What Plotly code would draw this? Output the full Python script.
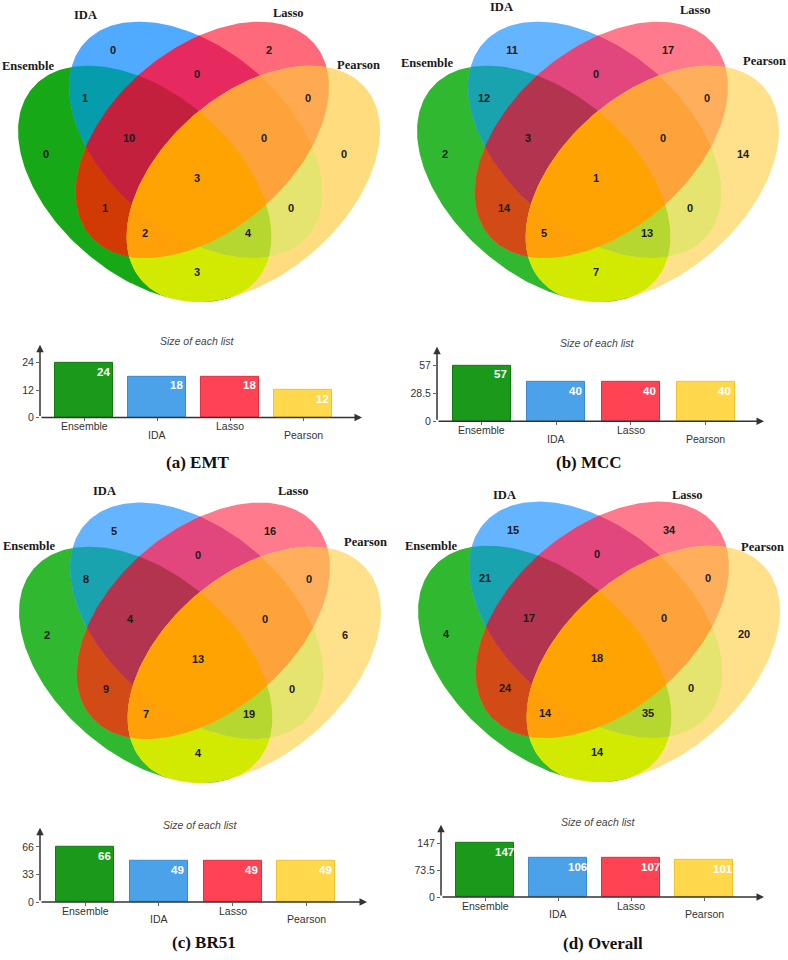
import numpy as np
import plotly.graph_objects as go

# ---------------- data ----------------
set_names = ["Ensemble", "IDA", "Lasso", "Pearson"]
# region order: A=Ensemble, B=IDA, C=Lasso, D=Pearson
region_keys = ["A", "B", "C", "D", "AB", "BC", "CD", "ABC", "BCD", "AC", "BD", "ACD", "ABD", "AD", "ABCD"]

emt_regions = [0, 0, 2, 0, 1, 0, 0, 10, 0, 1, 0, 2, 4, 3, 3]
mcc_regions = [2, 11, 17, 14, 12, 0, 0, 3, 0, 14, 0, 5, 13, 7, 1]
br51_regions = [2, 5, 16, 6, 8, 0, 0, 4, 0, 9, 0, 7, 19, 4, 13]
overall_regions = [4, 15, 34, 20, 21, 0, 0, 17, 0, 24, 0, 14, 35, 14, 18]

emt_sizes = [24, 18, 18, 12]
mcc_sizes = [57, 40, 40, 40]
br51_sizes = [66, 49, 49, 49]
overall_sizes = [147, 106, 107, 101]

emt_ticks = [0, 12, 24]
mcc_ticks = [0, 28.5, 57]
br51_ticks = [0, 33, 66]
overall_ticks = [0, 73.5, 147]

captions = ["(a) EMT", "(b) MCC", "(c) BR51", "(d) Overall"]
bar_title = "Size of each list"

# ---------------- styling / layout geometry ----------------
W, H = 788, 960
region_colors = {
    "A": "rgb(48,184,48)", "B": "rgb(100,180,255)", "C": "rgb(255,122,140)", "D": "rgb(255,225,140)",
    "AB": "rgb(25,163,175)", "BC": "rgb(225,70,125)", "CD": "rgb(255,175,92)",
    "ABC": "rgb(178,52,78)", "BCD": "rgb(253,163,58)", "AC": "rgb(210,75,22)",
    "BD": "rgb(228,228,110)", "ACD": "rgb(255,160,8)", "ABD": "rgb(182,214,48)",
    "AD": "rgb(210,234,0)", "ABCD": "rgb(255,163,2)",
}
# panel (a) is rendered with slightly deeper tones in the reference
region_colors_a = dict(region_colors)
region_colors_a.update({
    "A": "rgb(22,168,22)", "B": "rgb(80,170,255)", "C": "rgb(255,106,122)", "D": "rgb(255,220,125)",
    "AB": "rgb(5,156,172)", "BC": "rgb(230,42,95)", "ABC": "rgb(195,32,62)", "AC": "rgb(210,58,5)",
    "CD": "rgb(255,170,80)",
})
bar_colors = ["#1b991b", "#4ca2e8", "#ff4354", "#ffd84b"]
bar_edge = ["#127a12", "#3a8ad0", "#e0303f", "#f0c430"]

# label offsets relative to the central label
reg_off = {"A": (-151, -24), "B": (-84, -128), "C": (72, -128), "D": (147, -24),
           "AB": (-112, -80), "BC": (0, -104), "CD": (111, -80),
           "ABC": (-68, -40), "BCD": (67, -40), "AC": (-92, 31), "BD": (94, 31),
           "ACD": (-52, 56), "ABD": (51, 56), "AD": (0, 95), "ABCD": (0, 0)}
# ellipse geometry relative to symmetric centre: (dx, dy, angle deg, screen coords)
ell_a, ell_b = 148.0, 91.0
ell_geo = {"A": (-54.3, 5.0, 41.0), "B": (-3.3, -39.3, 41.0),
           "C": (3.3, -39.3, -41.0), "D": (54.3, 5.0, -41.0)}

panels = [
    dict(regions=emt_regions, sizes=emt_sizes, ticks=emt_ticks, cap=captions[0],
         cx=197, cy=180, colors=region_colors_a,
         setlab=[(-169, -114), (-112, -165), (91, -167), (161, -115)],
         bar=dict(x0=40, x1=362, c0=84, sp=73.0, zero=420, top=347, maxy=365),
         title=(197, 343), capxy=(197, 465)),
    dict(regions=mcc_regions, sizes=mcc_sizes, ticks=mcc_ticks, cap=captions[1],
         cx=596, cy=180, colors=region_colors,
         setlab=[(-169, -117), (-95, -173), (99, -170), (168, -119)],
         bar=dict(x0=437, x1=764, c0=481.5, sp=74.7, zero=424, top=349, maxy=367.7),
         title=(597, 345), capxy=(589, 465)),
    dict(regions=br51_regions, sizes=br51_sizes, ticks=br51_ticks, cap=captions[2],
         cx=198, cy=664, colors=region_colors,
         setlab=[(-169, -115), (-94, -170), (95, -170), (167, -119)],
         bar=dict(x0=40, x1=367, c0=85, sp=73.8, zero=907.7, top=833, maxy=852.3),
         title=(200, 830), capxy=(204, 948)),
    dict(regions=overall_regions, sizes=overall_sizes, ticks=overall_ticks, cap=captions[3],
         cx=597, cy=663, colors=region_colors,
         setlab=[(-166, -114), (-93, -165), (90, -165), (165, -113)],
         bar=dict(x0=441, x1=764, c0=485, sp=73.0, zero=902.7, top=830, maxy=848.3),
         title=(598, 827), capxy=(603, 949)),
]


def ellipse_poly(cx, cy, a, b, ang, n=240):
    t = np.linspace(0, 2 * np.pi, n, endpoint=False)
    th = np.deg2rad(ang)
    x = cx + a * np.cos(t) * np.cos(th) - b * np.sin(t) * np.sin(th)
    y = cy + a * np.cos(t) * np.sin(th) + b * np.sin(t) * np.cos(th)
    return list(zip(x.tolist(), y.tolist()))


def poly_area(p):
    s = 0.0
    for i in range(len(p)):
        x1, y1 = p[i]
        x2, y2 = p[(i + 1) % len(p)]
        s += x1 * y2 - x2 * y1
    return s / 2


def clip(subject, clipper):
    orient = 1.0 if poly_area(clipper) > 0 else -1.0
    out = subject
    n = len(clipper)
    for i in range(n):
        if not out:
            break
        p1 = clipper[i]
        p2 = clipper[(i + 1) % n]
        ex, ey = p2[0] - p1[0], p2[1] - p1[1]

        def side(q):
            return orient * (ex * (q[1] - p1[1]) - ey * (q[0] - p1[0]))

        inp = out
        out = []
        s = inp[-1]
        ss = side(s)
        for e in inp:
            se = side(e)
            if se >= 0:
                if ss < 0:
                    r = ss / (ss - se)
                    out.append((s[0] + r * (e[0] - s[0]), s[1] + r * (e[1] - s[1])))
                out.append(e)
            elif ss >= 0:
                r = ss / (ss - se)
                out.append((s[0] + r * (e[0] - s[0]), s[1] + r * (e[1] - s[1])))
            s, ss = e, se
    return out


fig = go.Figure()
annotations = []

paint_order = ["A", "B", "C", "D", "AB", "AC", "AD", "BC", "BD", "CD",
               "ABC", "ABD", "ACD", "BCD", "ABCD"]

for k, p in enumerate(panels):
    sx = p["cx"] + 2.0
    sy = p["cy"]
    cols = p["colors"]
    ells = {key: ellipse_poly(sx + g[0], sy + g[1], ell_a, ell_b, g[2]) for key, g in ell_geo.items()}
    for key in paint_order:
        poly = ells[key[0]]
        for other in key[1:]:
            poly = clip(poly, ells[other])
        if not poly:
            continue
        xs = [q[0] for q in poly] + [poly[0][0]]
        ys = [q[1] for q in poly] + [poly[0][1]]
        fig.add_trace(go.Scatter(x=xs, y=ys, mode="lines", fill="toself",
                                 fillcolor=cols[key], line=dict(width=0, color=cols[key]),
                                 hoverinfo="skip", showlegend=False, xaxis="x", yaxis="y"))
    # region counts
    tx = [p["cx"] + reg_off[rk][0] for rk in region_keys]
    ty = [p["cy"] + reg_off[rk][1] for rk in region_keys]
    fig.add_trace(go.Scatter(x=tx, y=ty, mode="text", text=[str(v) for v in p["regions"]],
                             textfont=dict(family="Liberation Sans, Arial", size=11, color="#1a1a1a", weight="bold"),
                             textposition="middle center", hoverinfo="skip", showlegend=False,
                             xaxis="x", yaxis="y"))
    # set labels
    for name, (dx, dy) in zip(set_names, p["setlab"]):
        annotations.append(dict(x=p["cx"] + dx, y=p["cy"] + dy, xref="x", yref="y", text="<b>%s</b>" % name,
                                showarrow=False, xanchor="center", yanchor="middle",
                                font=dict(family="Liberation Serif, Times New Roman", size=12.5, color="#1a1a1a")))

    # bar chart
    b = p["bar"]
    idx = k + 2
    ppu = (b["zero"] - b["maxy"]) / p["ticks"][-1]
    fig.add_trace(go.Bar(x=list(range(len(set_names))), y=p["sizes"], xaxis="x%d" % idx, yaxis="y%d" % idx,
                         width=58.0 / b["sp"], marker=dict(color=bar_colors, line=dict(color=bar_edge, width=1)),
                         hoverinfo="skip", showlegend=False))
    fig.layout["xaxis%d" % idx] = dict(domain=[b["x0"] / W, b["x1"] / W],
                                       range=[(b["x0"] - b["c0"]) / b["sp"], (b["x1"] - b["c0"]) / b["sp"]],
                                       anchor="y%d" % idx, tickvals=list(range(len(set_names))),
                                       ticks="outside", ticklen=3, tickcolor="#666", showticklabels=False,
                                       showline=False, showgrid=False, zeroline=False, fixedrange=True)
    fig.layout["yaxis%d" % idx] = dict(domain=[1 - b["zero"] / H, 1 - b["top"] / H],
                                       range=[0, (b["zero"] - b["top"]) / ppu],
                                       anchor="x%d" % idx, tickvals=p["ticks"],
                                       ticktext=[("%g" % v) for v in p["ticks"]],
                                       ticks="outside", ticklen=3, tickcolor="#666",
                                       tickfont=dict(family="Liberation Sans, Arial", size=10.5, color="#333"),
                                       showline=False, showgrid=False, zeroline=False, fixedrange=True)
    # value labels inside bars
    for i, v in enumerate(p["sizes"]):
        annotations.append(dict(x=i + 19.0 / b["sp"], y=v, xref="x%d" % idx, yref="y%d" % idx,
                                text="<b>%d</b>" % v, showarrow=False, xanchor="center", yanchor="middle",
                                yshift=-9, font=dict(family="Liberation Sans, Arial", size=11.5, color="white")))
    # category labels (staggered)
    for i, name in enumerate(set_names):
        annotations.append(dict(x=i, y=b["zero"] + (9 if i % 2 == 0 else 17.5), xref="x%d" % idx, yref="y",
                                text=name, showarrow=False, xanchor="center", yanchor="middle",
                                font=dict(family="Liberation Sans, Arial", size=10.5, color="#333")))
    # axis arrows
    annotations.append(dict(x=b["x1"], y=b["zero"], ax=b["x0"], ay=b["zero"], xref="x", yref="y",
                            axref="x", ayref="y", text="", showarrow=True, arrowhead=2, arrowsize=1,
                            arrowwidth=1.5, arrowcolor="#333"))
    annotations.append(dict(x=b["x0"], y=b["top"], ax=b["x0"], ay=b["zero"], xref="x", yref="y",
                            axref="x", ayref="y", text="", showarrow=True, arrowhead=2, arrowsize=1,
                            arrowwidth=1.5, arrowcolor="#333"))
    # bar title
    annotations.append(dict(x=p["title"][0], y=p["title"][1], xref="x", yref="y",
                            text="<i>%s</i>" % bar_title, showarrow=False,
                            font=dict(family="Liberation Sans, Arial", size=10.5, color="#444")))
    # caption
    annotations.append(dict(x=p["capxy"][0], y=p["capxy"][1], xref="x", yref="y",
                            text="<b>%s</b>" % p["cap"], showarrow=False,
                            font=dict(family="Liberation Serif, Times New Roman", size=17, color="#111")))

fig.update_layout(
    width=W, height=H, margin=dict(l=0, r=0, t=0, b=0),
    paper_bgcolor="white", plot_bgcolor="rgba(0,0,0,0)",
    xaxis=dict(domain=[0, 1], range=[0, W], visible=False, fixedrange=True),
    yaxis=dict(domain=[0, 1], range=[H, 0], visible=False, fixedrange=True),
    annotations=annotations, showlegend=False, bargap=0,
)

fig.write_html("out.html", config={"displayModeBar": False},
               post_script="document.body.style.margin='0px';")
